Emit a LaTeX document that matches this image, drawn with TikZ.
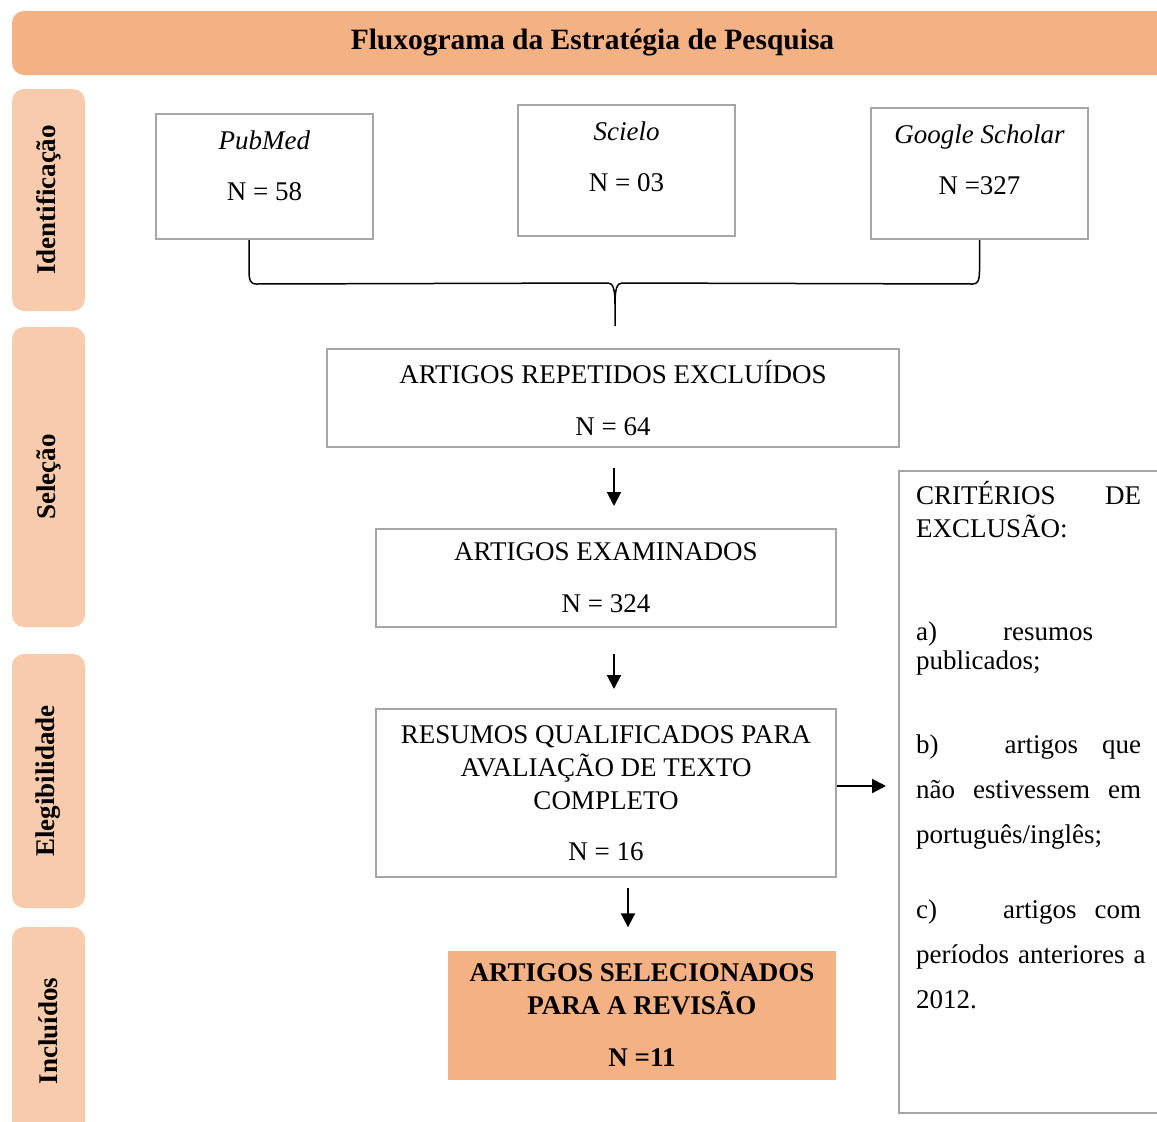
\documentclass[tikz,border=0pt]{standalone}
\usepackage{fontspec}
\setmainfont{Liberation Serif}
\usetikzlibrary{arrows.meta,positioning,calc}
\definecolor{flowor}{RGB}{244,177,131}
\definecolor{flowpeach}{RGB}{248,203,173}
\definecolor{flowgray}{RGB}{166,166,166}

\begin{document}
\begin{tikzpicture}[x=1pt, y=-1pt, font=\fontsize{27}{33}\selectfont,
  stage/.style={fill=flowpeach, rounded corners=12pt, rotate=90, minimum height=73pt, font=\fontsize{27}{33}\selectfont\bfseries},
  src/.style={draw=flowgray, line width=2pt, minimum width=217pt, align=center},
  box/.style={draw=flowgray, line width=2pt, minimum width=460pt, minimum height=98pt, align=center},
  arr/.style={-{Triangle[length=14pt, width=14pt]}, line width=2pt},
  brace/.style={line width=1.5pt}]
\useasboundingbox (0,0) rectangle (1157,1122);
\clip (0,0) rectangle (1157,1122);
% header and stages
\node[fill=flowor, rounded corners=12pt, minimum width=1161pt, minimum height=64pt, font=\fontsize{29.5}{33}\selectfont\bfseries] (title) at (592.5,43) {Fluxograma da Estratégia de Pesquisa};
\node[stage, minimum width=222pt] (st1) at (48.5,200) {Identificação};
\node[stage, minimum width=300pt] (st2) at (48.5,477) {Seleção};
\node[stage, minimum width=254pt] (st3) at (48.5,781) {Elegibilidade};
\node[stage, minimum width=208pt] (st4) at (48.5,1031) {Incluídos};
% sources
\node[src, minimum height=125pt] (pub) at (264.5,176.5) {\textit{PubMed}\\[18pt]N = 58\\[-11pt]\mbox{}};
\node[src, minimum height=131pt] (sci) at (626.5,170.5) {\textit{Scielo}\\[18pt]N = 03\\[-5pt]\mbox{}};
\node[src, minimum height=131pt] (goo) at (979.5,173.5) {\textit{Google Scholar}\\[18pt]N =327\\[-5pt]\mbox{}};
% screening chain
\node[box, minimum width=572pt] (rep) at (613,398) {ARTIGOS REPETIDOS EXCLUÍDOS\\[19pt]N = 64};
\node[box, below=80pt of rep, xshift=-7pt] (exa) {ARTIGOS EXAMINADOS\\[19pt]N = 324};
\node[box, minimum height=168pt, below=80pt of exa] (res) {RESUMOS QUALIFICADOS PARA\\AVALIAÇÃO DE TEXTO\\COMPLETO\\[18pt]N = 16};
\node[fill=flowor, minimum width=388pt, minimum height=129pt, align=center, font=\fontsize{27}{33}\selectfont\bfseries] (sel) at (642,1015) {ARTIGOS SELECIONADOS\\PARA A REVISÃO\\[19pt]N =11};
% exclusion criteria
\node[draw=flowgray, line width=2pt, minimum width=280pt, minimum height=642pt, anchor=north west] (crit) at (898,470) {};
\node[anchor=base west, text width=225pt, align=left, inner sep=0pt] (crittxt) at ([shift={(18,34)}]crit.north west) {%
\makebox[225pt][l]{CRITÉRIOS\hfill DE}\\
EXCLUSÃO:\\[70pt]
a)\hspace{66pt}resumos\\[-4pt]
publicados;\\[51pt]
\makebox[225pt][l]{b)\hspace{66pt}artigos\hfill que}\\[12pt]
\makebox[225pt][l]{não\hfill estivessem\hfill em}\\[12pt]
português/inglês;\\[42pt]
\makebox[225pt][l]{c)\hspace{66pt}artigos\hfill com}\\[12pt]
\makebox[225pt][l]{períodos anteriores a}\\[12pt]
2012.};
% brace joining the sources
\coordinate (tip) at (615,326);
\draw[brace] ([xshift=-15.5pt]pub.south) -- ++(0,31) .. controls +(0,10) and +(-5,0) .. ++(7,13) -- ($(tip)+(-7,-43)$) .. controls +(5,0) and +(0,-15) .. ($(tip)+(0,-22)$) -- (tip);
\draw[brace] (goo.south) -- ++(0,31) .. controls +(0,10) and +(5,0) .. ++(-7,13) -- ($(tip)+(7,-43)$) .. controls +(-5,0) and +(0,-15) .. ($(tip)+(0,-22)$);
% arrows
\draw[arr, shorten <=20pt, shorten >=22pt] ([xshift=1pt]rep.south) -- ([xshift=1pt]rep.south |- exa.north);
\draw[arr, shorten <=26pt, shorten >=19pt] ([xshift=8pt]exa.south) -- ([xshift=8pt]res.north);
\draw[arr, shorten <=10pt, shorten >=23pt] ([xshift=22pt]res.south) -- ([xshift=22pt]res.south |- sel.north);
\draw[arr, shorten >=12pt] ([yshift=7pt]res.east) -- ([yshift=7pt]res.east -| crit.west);
\end{tikzpicture}
\end{document}
